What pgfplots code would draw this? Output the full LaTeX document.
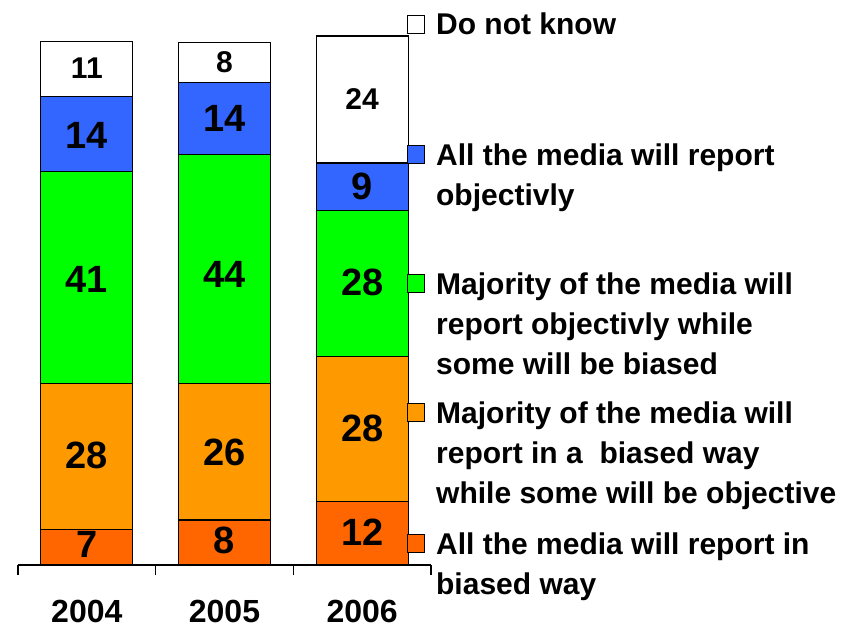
\documentclass[border=0pt]{standalone}
\usepackage{pgfplots}
\pgfplotsset{compat=1.18}
\usepackage{fontspec}
\setmainfont{Liberation Sans}
\definecolor{cnone}{HTML}{FFFFFF}
\definecolor{cblue}{HTML}{3366FF}
\definecolor{cgreen}{HTML}{00FF00}
\definecolor{corange}{HTML}{FF9900}
\definecolor{cdark}{HTML}{FF6600}
\begin{document}
\begin{tikzpicture}[font=\fontsize{30}{40}\selectfont\bfseries]
\pgfplotsset{common/.style={
  scale only axis, width=413pt, height=544pt,
  xmin=-0.5, xmax=2.5, ymin=0, ymax=105, clip=false}}
\tikzset{legsq/.style={draw=black, line width=1.2pt, fill=#1, inner sep=0pt,
  minimum width=17pt, minimum height=18pt, anchor=west}}
\begin{axis}[common, name=main,
  ybar stacked, bar width=92pt,
  axis x line*=bottom, axis y line=none,
  x axis line style={black, line width=1.2pt},
  xtick={-0.5,0.5,1.5,2.5}, xticklabels={},
  tick align=outside, major tick length=10pt,
  xtick style={black, line width=1.2pt},
  extra x ticks={0,1,2}, extra x tick labels={2004,2005,2006},
  extra x tick style={major tick length=0pt,
    xticklabel style={yshift=-32pt, font=\fontsize{32}{38}\selectfont\bfseries}},
  every axis plot/.append style={draw=black, line width=1.2pt}]
\addplot[fill=cdark] coordinates {(0,6.8) (1,8.7) (2,12.2)};
\addplot[fill=corange] coordinates {(0,28.2) (1,26.3) (2,28.1)};
\addplot[fill=cgreen] coordinates {(0,40.9) (1,44.3) (2,28.2)};
\addplot[fill=cblue] coordinates {(0,14.5) (1,13.9) (2,9.1)};
\addplot[fill=cnone] coordinates {(0,10.6) (1,7.7) (2,24.5)};
\end{axis}
\begin{axis}[common, hide axis]
% value labels
\addplot[only marks, mark=none, nodes near coords, point meta=explicit symbolic,
  nodes near coords style={anchor=center, inner sep=0pt, font=\fontsize{38}{40}\selectfont\bfseries}]
  coordinates {(0,3.9)[7] (0,21.2)[28] (0,55.2)[41] (0,83.0)[14]
               (1,4.8)[8] (1,21.8)[26] (1,56.0)[44] (1,86.1)[14]
               (2,6.4)[12] (2,26.4)[28] (2,54.6)[28] (2,73.0)[9]};
\addplot[only marks, mark=none, nodes near coords, point meta=explicit symbolic,
  nodes near coords style={anchor=center, inner sep=0pt}]
  coordinates {(0,95.9)[11] (1,97.1)[8] (2,90.0)[24]};
% legend
\node[legsq=cnone] at (axis cs:2.326,104.4) {};
\node[legsq=cblue] at (axis cs:2.326,79.3) {};
\node[legsq=cgreen] at (axis cs:2.326,54.4) {};
\node[legsq=corange] at (axis cs:2.326,29.5) {};
\node[legsq=cdark] at (axis cs:2.326,4.2) {};
\node[anchor=base west, inner sep=0pt] at (axis cs:2.536,102.3)
  {\begin{tabular}[t]{@{}l@{}}Do not know\end{tabular}};
\node[anchor=base west, inner sep=0pt] at (axis cs:2.536,77.2)
  {\begin{tabular}[t]{@{}l@{}}All the media will report\\objectivly\end{tabular}};
\node[anchor=base west, inner sep=0pt] at (axis cs:2.536,52.3)
  {\begin{tabular}[t]{@{}l@{}}Majority of the media will\\report objectivly while\\some will be biased\end{tabular}};
\node[anchor=base west, inner sep=0pt] at (axis cs:2.536,27.4)
  {\begin{tabular}[t]{@{}l@{}}Majority of the media will\\report in a\ \ biased way\\while some will be objective\end{tabular}};
\node[anchor=base west, inner sep=0pt] at (axis cs:2.536,2.1)
  {\begin{tabular}[t]{@{}l@{}}All the media will report in\\biased way\end{tabular}};
\end{axis}
\path[use as bounding box] ([shift={(-18pt,-64pt)}]main.south west) rectangle ([shift={(847pt,565pt)}]main.south west);
\end{tikzpicture}
\end{document}
